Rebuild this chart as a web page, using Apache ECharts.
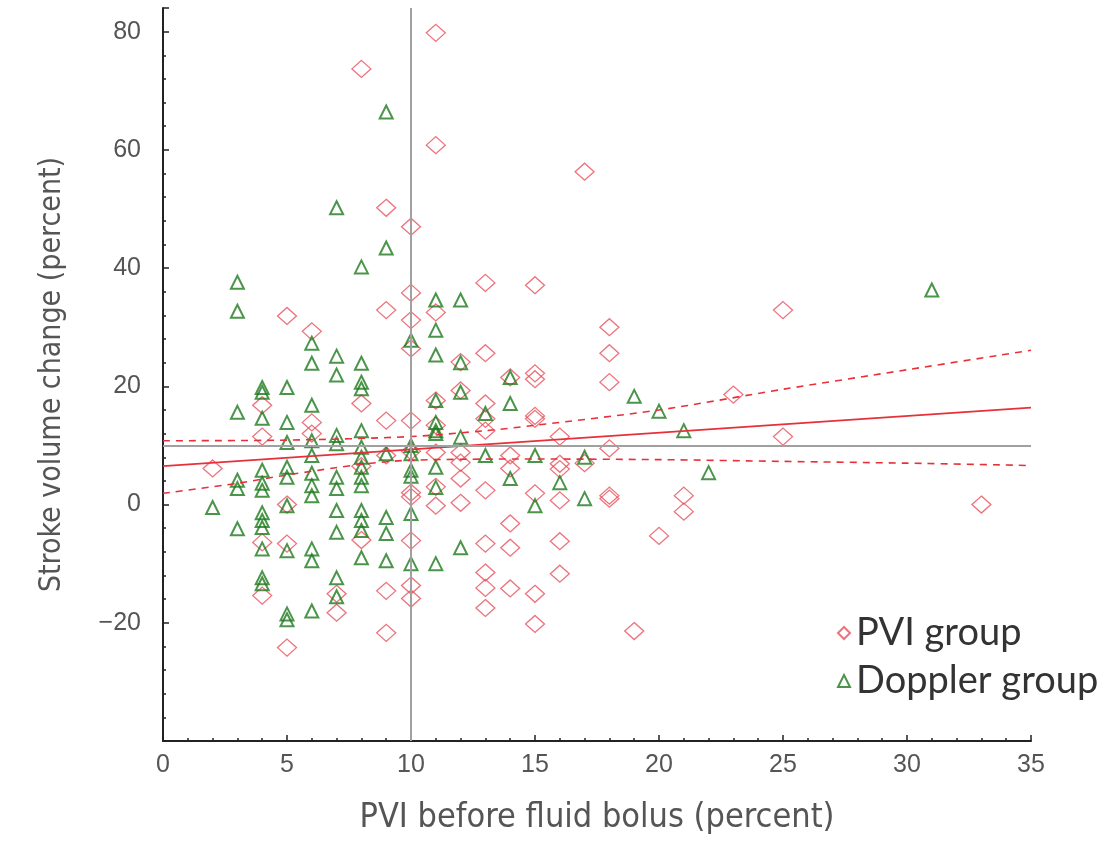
<!DOCTYPE html>
<html>
<head>
<meta charset="utf-8">
<script src="https://cdn.jsdelivr.net/npm/echarts@6/dist/echarts.min.js"></script>
<style>
html,body{margin:0;padding:0;background:#fff;}
#chart{width:1118px;height:843px;}
</style>
</head>
<body>
<div id="chart"></div>
<script>
// PVI group (diamonds)
var pviX = [2,4,4,4,4,5,5,5,5,6,6,6,7,7,8,8,8,8,9,9,9,9,9,9,10,10,10,10,10,10,10,10,10,10,10,11,11,11,11,11,11,11,11,12,12,12,12,12,12,13,13,13,13,13,13,13,13,13,13,14,14,14,14,14,14,15,15,15,15,15,15,15,15,16,16,16,16,16,16,17,17,18,18,18,18,18,18,19,20,21,21,23,25,25,33];
var pviY = [6.1,16.8,11.5,-6.4,-15.4,31.9,0,-6.6,-24.2,29.3,13.9,12.0,-15.1,-18.3,73.7,17.1,6.5,-6.0,50.2,32.9,14.2,8.3,-14.6,-21.7,47.0,35.8,31.2,26.4,14.2,9.0,2.0,1.3,-6.1,-13.7,-15.9,79.8,60.8,32.5,17.6,13.4,8.8,3.0,-0.2,24.1,19.3,8.8,7.1,4.4,0.3,37.5,25.6,17.1,14.5,12.5,2.4,-6.6,-11.5,-14.1,-17.5,21.5,8.3,6.1,-3.2,-7.3,-14.2,37.1,22.2,21.2,15.0,14.5,1.9,-15.1,-20.2,11.5,6.9,6.0,0.7,-6.2,-11.7,56.3,7.0,30.0,25.6,20.7,9.5,1.5,1.0,-21.4,-5.3,1.5,-1.2,18.6,32.9,11.5,0.0];
// Doppler group (triangles)
var dopX = [2,3,3,3,3,3,3,4,4,4,4,4,4,4,4,4,4,4,4,5,5,5,5,5,5,5,5,5,6,6,6,6,6,6,6,6,6,6,6,7,7,7,7,7,7,7,7,7,7,7,8,8,8,8,8,8,8,8,8,8,8,8,8,8,9,9,9,9,9,9,10,10,10,10,10,10,10,11,11,11,11,11,11,11,11,11,11,12,12,12,12,12,13,13,14,14,14,15,15,16,17,17,19,20,21,22,31];
var dopY = [-0.5,37.6,32.7,15.6,4.1,2.7,-4.1,19.8,19.0,14.6,5.8,3.6,2.4,-1.4,-2.7,-3.9,-7.5,-12.4,-13.4,19.8,13.9,10.5,6.3,4.6,-0.2,-7.8,-18.5,-19.5,27.3,23.9,16.8,10.8,8.3,5.3,3.2,1.5,-7.5,-9.5,-18.0,50.2,25.1,21.9,11.7,10.3,4.6,2.7,-1.0,-4.7,-12.4,-15.6,40.2,23.9,20.7,19.6,12.5,9.7,8.0,6.3,4.6,3.2,-1.0,-2.7,-4.4,-9.0,66.4,43.4,8.6,-2.2,-4.9,-9.5,27.8,10.0,8.6,5.8,4.8,-1.5,-10.0,34.6,29.5,25.3,17.6,13.9,12.5,12.0,6.3,2.9,-10.0,34.6,24.0,19.0,11.4,-7.3,15.4,8.3,21.5,17.1,4.4,8.3,-0.2,3.7,8.0,1.0,18.3,15.8,12.5,5.4,36.3];
// Regression line and confidence band
var fitX = [0, 35];
var fitY = [6.5, 16.4];
var upperX = [0, 5, 10, 13, 15, 20, 25, 30, 35];
var upperY = [10.8, 10.9, 11.5, 12.5, 13.4, 16.0, 19.5, 22.8, 26.1];
var lowerX = [0, 3, 5, 8, 10, 15, 20, 25, 30, 35];
var lowerY = [1.9, 3.6, 5.0, 6.8, 7.5, 7.7, 7.6, 7.3, 7.0, 6.6];
// Reference lines
var refX = 10;
var refY = 10;
// Axis settings
var xTicks = [0, 5, 10, 15, 20, 25, 30, 35];
var yTicks = [-20, 0, 20, 40, 60, 80];
var xTitle = 'PVI before fluid bolus (percent)';
var yTitle = 'Stroke volume change (percent)';
var seriesNames = ['PVI group', 'Doppler group'];

function zip(a, b) { return a.map(function (v, i) { return [v, b[i]]; }); }

var red = '#e8505c';
var green = '#1e7a1e';
var narrow = '"Liberation Sans Narrow","DejaVu Sans Condensed","Liberation Sans",sans-serif';

var chart = echarts.init(document.getElementById('chart'), null, {renderer: 'canvas'});
chart.setOption({
  animation: false,
  backgroundColor: '#ffffff',
  grid: {left: 163, right: 87, top: 8, bottom: 102, containLabel: false},
  legend: {
    orient: 'vertical', left: 832, top: 609, itemGap: 10,
    itemWidth: 12, itemHeight: 12,
    textStyle: {fontSize: 38, color: '#333', fontFamily: 'Lato, "Open Sans", sans-serif', padding: [0, 0, 0, 1]},
    data: seriesNames
  },
  xAxis: {
    type: 'value', min: 0, max: 35, interval: 5,
    axisLine: {show: true, onZero: false, lineStyle: {color: '#222', width: 2}},
    axisTick: {show: true, inside: true, length: 6, lineStyle: {color: '#222', width: 1.5}},
    minorTick: {show: true, splitNumber: 5, length: 3, lineStyle: {color: '#222', width: 1.5}},
    splitLine: {show: false},
    axisLabel: {fontSize: 25, color: '#555', margin: 12, fontFamily: '"Liberation Sans", Arial, sans-serif',
      formatter: function (v) { return xTicks.indexOf(v) >= 0 ? String(v) : ''; }},
    name: xTitle, nameLocation: 'middle', nameGap: 60,
    nameTextStyle: {fontSize: 34, color: '#555', fontFamily: narrow}
  },
  yAxis: {
    type: 'value', min: -40, max: 84, interval: 20,
    axisLine: {show: true, onZero: false, lineStyle: {color: '#222', width: 2}},
    axisTick: {show: true, inside: true, length: 6, lineStyle: {color: '#222', width: 1.5}},
    minorTick: {show: true, splitNumber: 5, length: 3, lineStyle: {color: '#222', width: 1.5}},
    splitLine: {show: false},
    axisLabel: {fontSize: 25, color: '#555', margin: 22, fontFamily: '"Liberation Sans", Arial, sans-serif',
      formatter: function (v) { return yTicks.indexOf(v) >= 0 ? String(v).replace('-', '\u2212') : ''; }},
    name: yTitle, nameLocation: 'middle', nameGap: 96, nameRotate: 90,
    nameTextStyle: {fontSize: 30, color: '#555', fontFamily: narrow}
  },
  series: [
    {
      type: 'line', name: 'ref', data: [], silent: true,
      markLine: {
        symbol: 'none', silent: true, label: {show: false},
        lineStyle: {color: '#a0a0a0', width: 2, type: 'solid'},
        data: [{xAxis: refX}, {yAxis: refY}]
      }
    },
    {
      type: 'line', name: 'fit', data: zip(fitX, fitY), symbol: 'none', silent: true,
      lineStyle: {color: '#e8303a', width: 1.6}
    },
    {
      type: 'line', name: 'upper', data: zip(upperX, upperY), symbol: 'none', silent: true, smooth: 0.3,
      lineStyle: {color: '#e8303a', width: 1.6, type: [7, 6]}
    },
    {
      type: 'line', name: 'lower', data: zip(lowerX, lowerY), symbol: 'none', silent: true, smooth: 0.3,
      lineStyle: {color: '#e8303a', width: 1.6, type: [7, 6]}
    },
    {
      type: 'scatter', name: seriesNames[0], data: zip(pviX, pviY),
      symbol: 'diamond', symbolSize: [19, 17],
      itemStyle: {color: 'rgba(255,255,255,0)', borderColor: red, borderWidth: 1.3}
    },
    {
      type: 'scatter', name: seriesNames[1], data: zip(dopX, dopY),
      symbol: 'triangle', symbolSize: [13, 13],
      itemStyle: {color: 'rgba(255,255,255,0)', borderColor: green, borderWidth: 2}
    }
  ]
});
</script>
</body>
</html>
